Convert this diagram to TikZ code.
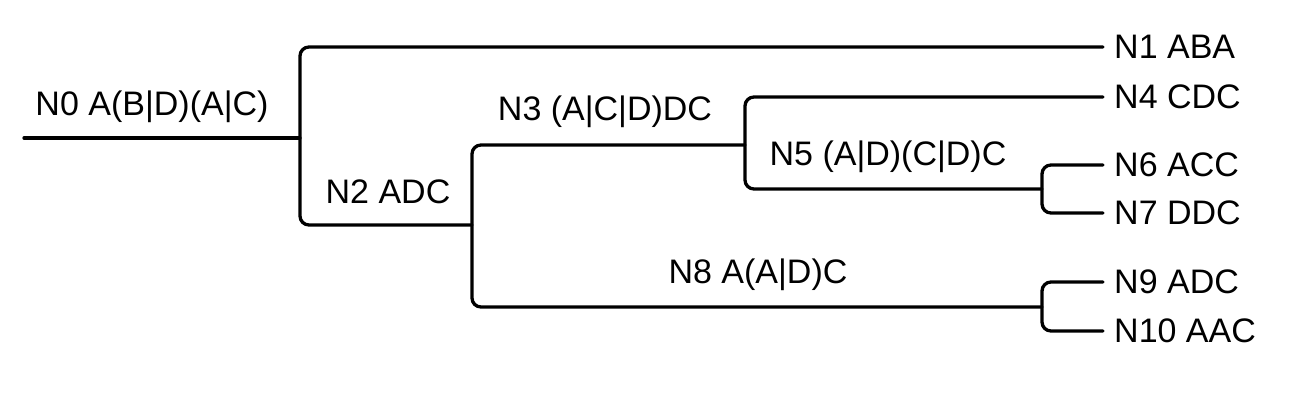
\documentclass[tikz,border=0pt]{standalone}
\usepackage{fontspec}
\setmainfont{Liberation Sans}
\begin{document}
\begin{tikzpicture}[x=1pt,y=-1pt,
  edge/.style={line width=3.3pt, rounded corners=9pt, line cap=round},
  leaf/.style={anchor=west, font=\fontsize{34}{41}\selectfont, text height=23.5pt, text depth=0pt, inner xsep=11pt, inner ysep=0pt},
  inner/.style={anchor=base, font=\fontsize{34}{41}\selectfont, inner sep=0pt}]
\useasboundingbox (0,0) rectangle (1300,405);
% leaves
\node[leaf] (n1) at (1103,47) {N1 ABA};
\node[leaf] (n4) at (1103,97) {N4 CDC};
\node[leaf] (n6) at (1103,165) {N6 ACC};
\node[leaf] (n7) at (1103,213) {N7 DDC};
\node[leaf] (n9) at (1103,282) {N9 ADC};
\node[leaf] (n10) at (1103,331) {N10 AAC};
% branch points
\coordinate (r) at (24,138);
\coordinate (b0) at (300,138);
\coordinate (b2) at (472,225);
\coordinate (b3) at (745,145);
\coordinate (b5) at (1042,189);
\coordinate (b8) at (1042,307);
% internal labels
\node[inner] (n0) at (152,115) {N0 A(B|D)(A|C)};
\node[inner] (n2) at (388,203) {N2 ADC};
\node[inner] (n3) at (605,120) {N3 (A|C|D)DC};
\node[inner] (n5) at (888,165) {N5 (A|D)(C|D)C};
\node[inner] (n8) at (758,283) {N8 A(A|D)C};
% edges
\draw[edge] (r) -- (b0);
\draw[edge] (n1.west) -| (b0) |- (b2);
\draw[edge] (b3) -| (b2) |- (b8);
\draw[edge] (n4.west) -| (b3) |- (b5);
\draw[edge] (n6.west) -| (b5) |- (n7.west);
\draw[edge] (n9.west) -| (b8) |- (n10.west);
\end{tikzpicture}
\end{document}
